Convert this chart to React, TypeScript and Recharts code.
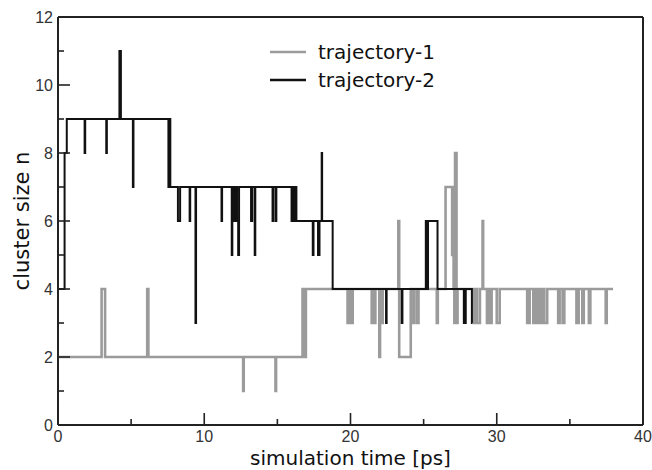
import React from 'react';
import { LineChart, Line, XAxis, YAxis, ReferenceLine, Legend } from 'recharts';

// Step-change points [time in ps, cluster size n]
const traj1Steps: [number, number][] = [
  [0, 2], [2.98, 4], [3.22, 2], [6.1, 4], [6.18, 2], [12.66, 1], [12.7, 2], [14.87, 1], [14.91, 2],
  [16.72, 4], [16.85, 2], [16.95, 4], [19.8, 3], [19.9, 4], [20.05, 3], [20.15, 4],
  [21.45, 3], [21.5, 4], [21.6, 3], [21.7, 4], [21.97, 2], [22.02, 4], [22.1, 3], [22.2, 4],
  [23.27, 6], [23.33, 2], [24.12, 4], [24.3, 3], [24.36, 4], [24.55, 3], [24.65, 4],
  [25.9, 3], [25.97, 4], [26.5, 7], [26.95, 5], [27.0, 7], [27.05, 4], [27.1, 3], [27.15, 8],
  [27.25, 3], [27.32, 4], [28.4, 3], [28.5, 4], [28.65, 3], [28.85, 4], [29.03, 6], [29.07, 4],
  [29.33, 3], [29.4, 4], [29.55, 3], [29.65, 4], [30.0, 3], [30.2, 4], [32.08, 3], [32.25, 4],
  [32.5, 3], [32.6, 4], [32.65, 3], [32.8, 4], [32.85, 3], [33.0, 4], [33.05, 3], [33.2, 4],
  [33.25, 3], [33.45, 4], [34.2, 3], [34.3, 4], [34.5, 3], [34.62, 4], [35.45, 3], [35.6, 4],
  [35.85, 3], [35.95, 4], [36.3, 3], [36.4, 4], [37.45, 3], [37.52, 4], [37.95, 4],
];

const traj2Steps: [number, number][] = [
  [0, 4], [0.45, 8], [0.6, 9], [1.82, 8], [1.86, 9], [3.3, 8], [3.34, 9], [4.2, 11], [4.3, 9],
  [5.12, 7], [5.16, 9], [7.55, 7], [7.62, 9], [7.68, 7], [8.2, 6], [8.35, 7], [9.0, 6], [9.04, 7],
  [9.4, 3], [9.44, 7], [11.18, 6], [11.22, 7], [11.88, 5], [11.92, 6], [11.98, 7], [12.02, 6],
  [12.08, 7], [12.12, 6], [12.2, 7], [12.24, 6], [12.32, 5], [12.38, 7], [13.2, 6], [13.28, 7],
  [13.45, 5], [13.49, 7], [14.67, 6], [14.72, 7], [14.88, 6], [14.93, 7], [15.97, 6], [16.02, 7],
  [16.15, 6], [16.22, 7], [16.3, 6], [17.42, 5], [17.47, 6], [17.78, 5], [17.88, 6], [18.03, 8],
  [18.06, 6], [18.78, 4], [22.43, 3], [22.47, 4], [23.5, 3], [23.55, 4], [25.15, 6], [25.22, 4],
  [25.3, 6], [25.95, 4], [27.75, 3], [27.88, 4], [28.3, 3], [28.32, 3],
];

const xTicks = [0, 5, 10, 15, 20, 25, 30, 35, 40];
const yTicks = [0, 1, 2, 3, 4, 5, 6, 7, 8, 9, 10, 11, 12];
const seriesNames = ['trajectory-1', 'trajectory-2'];

const traj1 = traj1Steps.map(([t, n]) => ({ t, n }));
const traj2 = traj2Steps.map(([t, n]) => ({ t, n }));

const AXIS = '#222';

const XTick = (props: any) => {
  const { x, y, payload } = props;
  const v = payload.value;
  const major = v % 10 === 0;
  return (
    <g>
      <line x1={x} x2={x} y1={y} y2={y - (major ? 12 : 6)} stroke={AXIS} strokeWidth={1.6} />
      {major && (
        <text x={x} y={y + 17} textAnchor="middle" fontSize={16} fontFamily="Arial, 'Liberation Sans'" fill="#333">
          {v}
        </text>
      )}
    </g>
  );
};

const YTick = (props: any) => {
  const { x, y, payload } = props;
  const v = payload.value;
  const major = v % 2 === 0;
  return (
    <g>
      <line x1={x} x2={x + (major ? 12 : 6)} y1={y} y2={y} stroke={AXIS} strokeWidth={1.6} />
      {major && (
        <text x={x - 5} y={y + 6} textAnchor="end" fontSize={16} fontFamily="Arial, 'Liberation Sans'" fill="#333">
          {v}
        </text>
      )}
    </g>
  );
};

const renderLegend = (props: any) => {
  const items = props.payload || [];
  return (
    <div>
      {items.map((p: any) => (
        <div key={p.value} style={{ display: 'flex', alignItems: 'center', height: 28 }}>
          <svg width={36} height={4} style={{ display: 'block' }}>
            <line x1={0} x2={36} y1={2} y2={2} stroke={p.color} strokeWidth={2.5} />
          </svg>
          <span style={{ marginLeft: 12, fontFamily: "'DejaVu Sans'", fontSize: 20, color: '#111', lineHeight: '28px' }}>
            {p.value}
          </span>
        </div>
      ))}
    </div>
  );
};

export default function App() {
  return (
    <div style={{ position: 'absolute', left: 0, top: 0, background: '#fff' }}>
      <LineChart width={652} height={470} margin={{ top: 17, right: 9, left: 0, bottom: 0 }}>
        <XAxis
          dataKey="t"
          type="number"
          domain={[0, 40]}
          ticks={xTicks}
          interval={0}
          height={45}
          tickSize={0}
          tickMargin={0}
          tickLine={false}
          tick={<XTick />}
          axisLine={{ stroke: AXIS, strokeWidth: 2 }}
          allowDataOverflow
          label={{
            value: 'simulation time [ps]',
            position: 'insideBottom',
            offset: 5,
            fontSize: 20,
            fontFamily: "'DejaVu Sans'",
            fill: '#111',
          }}
        />
        <YAxis
          dataKey="n"
          type="number"
          domain={[0, 12]}
          ticks={yTicks}
          interval={0}
          width={58}
          tickSize={0}
          tickMargin={0}
          tickLine={false}
          tick={<YTick />}
          axisLine={{ stroke: AXIS, strokeWidth: 2 }}
          allowDataOverflow
          label={{
            value: 'cluster size n',
            position: 'center',
            angle: -90,
            dx: -7,
            fontSize: 21,
            fontFamily: "'DejaVu Sans'",
            fill: '#111',
          }}
        />
        <ReferenceLine y={12} stroke={AXIS} strokeWidth={2} />
        <ReferenceLine x={40} stroke={AXIS} strokeWidth={2} />
        <Legend
          layout="vertical"
          align="center"
          verticalAlign="middle"
          content={renderLegend}
          wrapperStyle={{ left: 270, top: 38, width: 220, height: 60 }}
        />
        <Line
          name={seriesNames[0]}
          data={traj1}
          dataKey="n"
          type="stepAfter"
          stroke="#9b9b9b"
          strokeWidth={2.6}
          dot={false}
          activeDot={false}
          isAnimationActive={false}
        />
        <Line
          name={seriesNames[1]}
          data={traj2}
          dataKey="n"
          type="stepAfter"
          stroke="#111"
          strokeWidth={2}
          dot={false}
          activeDot={false}
          isAnimationActive={false}
        />
      </LineChart>
    </div>
  );
}
